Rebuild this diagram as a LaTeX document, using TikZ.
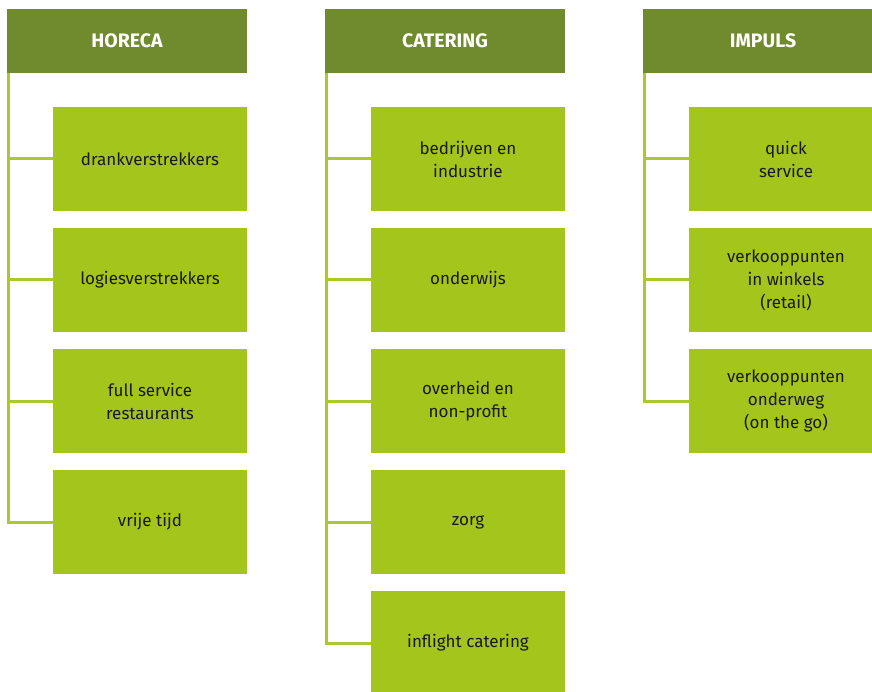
\documentclass[tikz,border=0pt]{standalone}
\usepackage{fontspec}
\setmainfont{Fira Sans}
\usetikzlibrary{positioning}
\definecolor{headgreen}{HTML}{6F8B2D}
\definecolor{boxgreen}{HTML}{A4C61C}
\definecolor{linegreen}{HTML}{A9C92E}

\begin{document}
\begin{tikzpicture}[x=1pt, y=-1pt, node distance=17pt,
    head/.style={fill=headgreen, text=white, font=\fontsize{19.5}{22}\selectfont\bfseries,
      minimum width=240pt, minimum height=64pt, inner sep=0pt, outer sep=0pt},
    item/.style={fill=boxgreen, text=black!90, font=\fontsize{17}{23}\selectfont,
      minimum width=194pt, minimum height=104pt, align=center, inner sep=0pt, outer sep=0pt},
    link/.style={draw=linegreen, line width=3pt}]
  \useasboundingbox (0,0) rectangle (872,692);
  \clip (0,0) rectangle (872,692);

  % column headers
  \node[head] (horeca) at (127,41) {HORECA};
  \node[head] (catering) at (445,41) {CATERING};
  \node[head] (impuls) at (763,41) {IMPULS};

  % horeca
  \node[item, below=34pt of horeca.south east, anchor=north east] (h1) {drankverstrekkers};
  \node[item, below=of h1] (h2) {logiesverstrekkers};
  \node[item, below=of h2] (h3) {full service\\restaurants};
  \node[item, below=of h3] (h4) {vrije tijd};

  % catering
  \node[item, below=34pt of catering.south east, anchor=north east] (c1) {bedrijven en\\industrie};
  \node[item, below=of c1] (c2) {onderwijs};
  \node[item, below=of c2] (c3) {overheid en\\non-profit};
  \node[item, below=of c3] (c4) {zorg};
  \node[item, below=of c4] (c5) {inflight catering};

  % impuls
  \node[item, below=34pt of impuls.south east, anchor=north east] (i1) {quick\\service};
  \node[item, below=of i1] (i2) {verkooppunten\\in winkels\\(retail)};
  \node[item, below=of i2] (i3) {verkooppunten\\onderweg\\(on the go)};

  % tree lines
  \foreach \c in {h1,h2,h3,h4}
    \draw[link] ([xshift=1.5pt]horeca.south west) |- (\c.west);
  \foreach \c in {c1,c2,c3,c4,c5}
    \draw[link] ([xshift=1.5pt]catering.south west) |- (\c.west);
  \foreach \c in {i1,i2,i3}
    \draw[link] ([xshift=1.5pt]impuls.south west) |- (\c.west);
\end{tikzpicture}
\end{document}
